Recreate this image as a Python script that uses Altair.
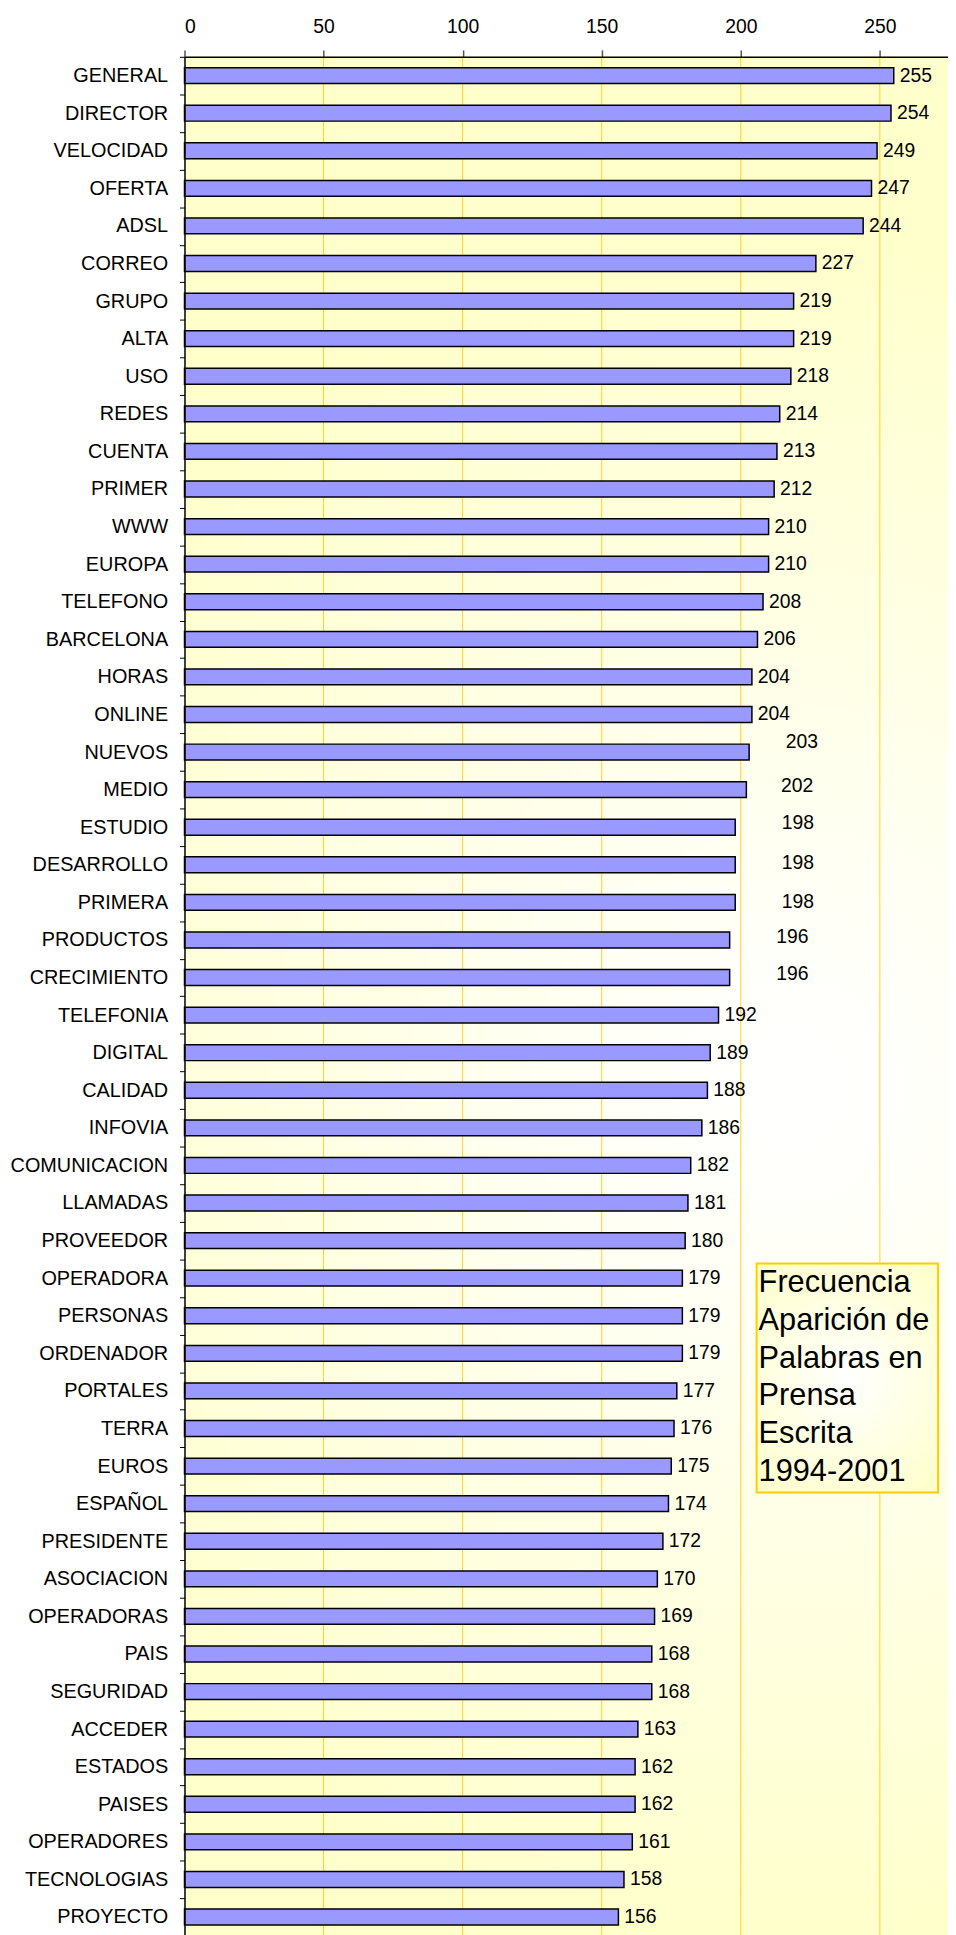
import altair as alt
import pandas as pd

words = ["GENERAL", "DIRECTOR", "VELOCIDAD", "OFERTA", "ADSL", "CORREO", "GRUPO", "ALTA",
         "USO", "REDES", "CUENTA", "PRIMER", "WWW", "EUROPA", "TELEFONO", "BARCELONA",
         "HORAS", "ONLINE", "NUEVOS", "MEDIO", "ESTUDIO", "DESARROLLO", "PRIMERA",
         "PRODUCTOS", "CRECIMIENTO", "TELEFONIA", "DIGITAL", "CALIDAD", "INFOVIA",
         "COMUNICACION", "LLAMADAS", "PROVEEDOR", "OPERADORA", "PERSONAS", "ORDENADOR",
         "PORTALES", "TERRA", "EUROS", "ESPAÑOL", "PRESIDENTE", "ASOCIACION", "OPERADORAS",
         "PAIS", "SEGURIDAD", "ACCEDER", "ESTADOS", "PAISES", "OPERADORES", "TECNOLOGIAS",
         "PROYECTO"]
counts = [255, 254, 249, 247, 244, 227, 219, 219, 218, 214, 213, 212, 210, 210, 208, 206,
          204, 204, 203, 202, 198, 198, 198, 196, 196, 192, 189, 188, 186, 182, 181, 180,
          179, 179, 179, 177, 176, 175, 174, 172, 170, 169, 168, 168, 163, 162, 162, 161,
          158, 156]
tick_values = [0, 50, 100, 150, 200, 250]
title_lines = ["Frecuencia", "Aparición de", "Palabras en", "Prensa", "Escrita", "1994-2001"]

df = pd.DataFrame({"word": words, "count": counts})
grid_df = pd.DataFrame({"count": tick_values[1:]})

FONT = "Liberation Sans"
W = 770
H = 1895
xscale = alt.Scale(domain=[0, 274.5], nice=False)
yscale = alt.Scale(domain=words, paddingInner=0, paddingOuter=0)

xaxis = alt.Axis(orient="top", values=tick_values, title=None, grid=False,
                 tickSize=7, tickColor="#555555", tickWidth=1.5,
                 domainColor="black", domainWidth=1.5,
                 labelFont=FONT, labelFontSize=19.5, labelColor="black",
                 labelPadding=14, zindex=1)
yaxis = alt.Axis(title=None, tickBand="extent", tickSize=5, tickColor="black",
                 domainColor="black", domainWidth=1.5, labelFont=FONT,
                 labelFontSize=20, labelColor="black", labelPadding=12,
                 labelLimit=300, zindex=1)

X = alt.X("count:Q", scale=xscale, axis=xaxis)
Y = alt.Y("word:N", scale=yscale, sort=words, axis=yaxis)

bg = alt.Chart(alt.Data(values=[{}])).mark_rect(
    fill={"gradient": "radial", "x1": 0.62, "y1": 0.55, "x2": 0.62, "y2": 0.55,
          "r1": 0, "r2": 0.45,
          "stops": [{"offset": 0, "color": "#FFFFFF"}, {"offset": 0.15, "color": "#FFFFFA"},
                    {"offset": 1, "color": "#FFFFCC"}]}
).encode(x=alt.value(0), x2=alt.value(W), y=alt.value(0), y2=alt.value(H))

grid = alt.Chart(grid_df).mark_rule(color="#FFCC00", strokeWidth=1, opacity=0.85).encode(x=X)

bars = alt.Chart(df).mark_bar(size=16, fill="#9999FF", stroke="black", strokeWidth=1.5).encode(
    x=X, y=Y
)

shifts = {"NUEVOS": (37, -10), "MEDIO": (35, -4), "ESTUDIO": (47, -4), "DESARROLLO": (47, -2),
          "PRIMERA": (47, 0), "PRODUCTOS": (47, -3), "CRECIMIENTO": (47, -4)}

def label_layer(dx, dy, flt):
    return alt.Chart(df).transform_filter(flt).mark_text(
        align="left", baseline="middle", dx=dx, dy=dy, font=FONT, fontSize=19.5, color="black"
    ).encode(x=X, y=Y, text="count:Q")

labels = [label_layer(6, 0, alt.FieldOneOfPredicate(field="word", oneOf=[w for w in words if w not in shifts]))]
for w, (dx, dy) in shifts.items():
    labels.append(label_layer(dx, dy, alt.FieldEqualPredicate(field="word", equal=w)))

box = alt.Chart(alt.Data(values=[{}])).mark_rect(
    fill={"gradient": "radial", "x1": 0.5, "y1": 0.5, "x2": 0.5, "y2": 0.5, "r1": 0, "r2": 0.6,
          "stops": [{"offset": 0, "color": "#FFFFFF"}, {"offset": 1, "color": "#FFFFCC"}]},
    stroke="#FFCC00", strokeWidth=2
).encode(x=alt.value(577), x2=alt.value(760), y=alt.value(1217), y2=alt.value(1448))

box_text = alt.Chart(alt.Data(values=[{}])).mark_text(
    align="left", baseline="alphabetic", lineHeight=38, font=FONT, fontSize=31, color="black"
).encode(x=alt.value(579), y=alt.value(1246), text=alt.value(title_lines))

chart = alt.layer(bg, grid, bars, *labels, box, box_text).properties(
    width=W, height=H,
    autosize=alt.AutoSizeParams(type="none"),
    padding={"left": 178, "top": 41, "right": 0, "bottom": 0},
).configure_view(stroke=None).configure(font=FONT, background="white")

chart.save("out.html", embed_options={"renderer": "svg", "actions": False})
